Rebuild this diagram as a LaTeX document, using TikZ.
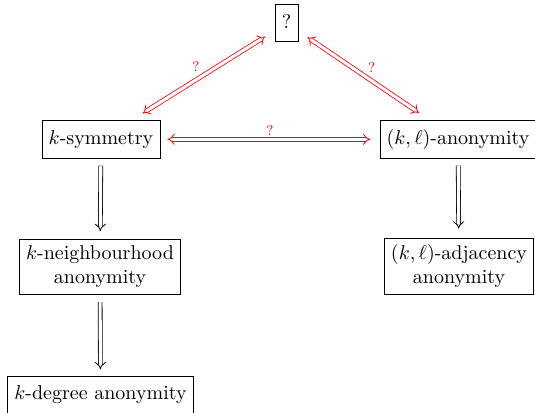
\documentclass[tikz,border=0pt]{standalone}
\usetikzlibrary{arrows.meta}
\begin{document}
\begin{tikzpicture}[x=0.5pt,y=-0.5pt,
  box/.style={draw, align=center, inner sep=0.3333em},
  impl/.style={double equal sign distance, -{Implies}},
  redimpl/.style={draw=red, double equal sign distance, {Implies}-{Implies}},
  qlabel/.style={font=\scriptsize, text=red, inner sep=1.6pt}]
\useasboundingbox (0,0) rectangle (535,412);
\node[box] (top) at (286.7,23.2) {\strut ?};
\node[box] (sym) at (101,139.3) {\strut$k$-symmetry};
\node[box] (kl) at (458,139.3) {\strut$(k,\ell)$-anonymity};
\node[box] (nb) at (100,267) {$k$-neighbourhood\\anonymity};
\node[box] (adj) at (459,266.5) {$(k,\ell)$-adjacency\\anonymity};
\node[box] (deg) at (100.5,394.8) {\strut$k$-degree anonymity};
\draw[redimpl, shorten <=6.5pt, shorten >=5.7pt] (sym) -- node[qlabel, above left] {?} (top);
\draw[redimpl, shorten <=5.4pt, shorten >=6.5pt] (top) -- node[qlabel, above right] {?} (kl);
\draw[redimpl, shorten <=3.5pt, shorten >=4.6pt] (sym) -- node[qlabel, above] {?} (kl);
\draw[impl, shorten <=3.6pt, shorten >=3.9pt] (sym) -- (nb);
\draw[impl, shorten <=3.5pt, shorten >=3.2pt] (nb) -- (deg);
\draw[impl, shorten <=3.6pt, shorten >=4.6pt] (kl) -- (adj);
\end{tikzpicture}
\end{document}
